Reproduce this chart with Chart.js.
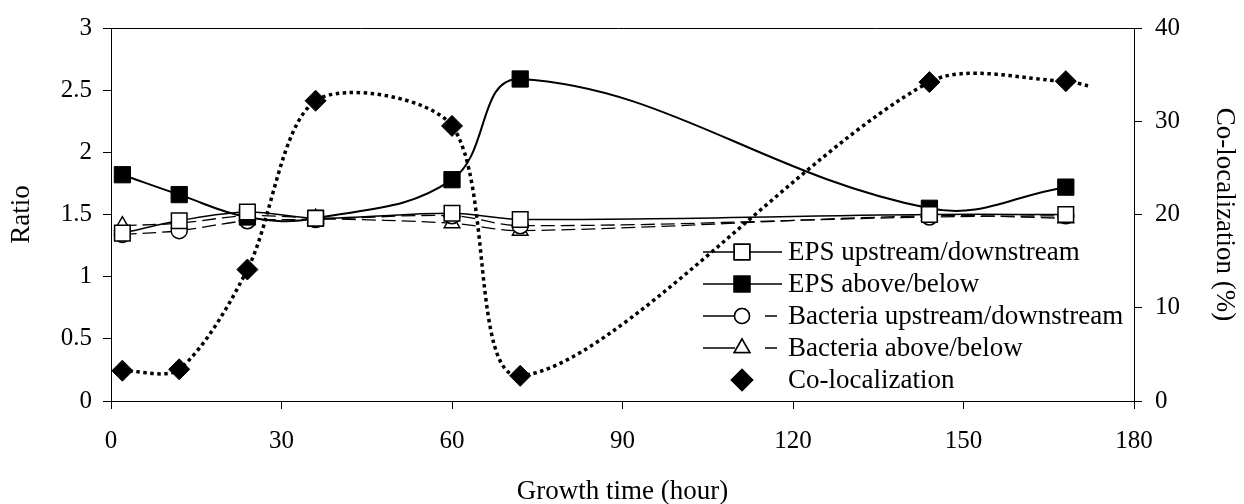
<!DOCTYPE html>
<html>
<head>
<meta charset="utf-8">
<title>Ratio and co-localization over growth time</title>
<script src="https://cdn.jsdelivr.net/npm/chart.js@4.4.1/dist/chart.umd.min.js"></script>
<style>
    html, body { margin: 0; padding: 0; background: #fff; }
    #wrap { width: 1244px; height: 504px; }
</style>
</head>
<body>
<div id="wrap"><canvas id="chart" width="1244" height="504"></canvas></div>
<script>
// Data
const hours = [2, 12, 24, 36, 60, 72, 144, 168];
const coHours = [2, 12, 24, 36, 60, 72, 144, 168, 172];   // dotted curve runs a little past the last marker

const epsUpDown = [1.35, 1.45, 1.52, 1.47, 1.51, 1.46, 1.50, 1.50];
const epsAboveBelow = [1.82, 1.66, 1.48, 1.47, 1.78, 2.59, 1.55, 1.72];
const bacUpDown = [1.34, 1.37, 1.45, 1.46, 1.49, 1.41, 1.48, 1.49];
const bacAboveBelow = [1.41, 1.43, 1.49, 1.47, 1.43, 1.37, 1.49, 1.47];
const coLocalization = [3.25, 3.4, 14.1, 32.2, 29.5, 2.7, 34.2, 34.3, 33.8];

const seriesLabels = ['EPS upstream/downstream', 'EPS above/below', 'Bacteria upstream/downstream', 'Bacteria above/below', 'Co-localization'];
const xTicks = [0, 30, 60, 90, 120, 150, 180];
const ratioTicks = [0, 0.5, 1, 1.5, 2, 2.5, 3];
const coTicks = [0, 10, 20, 30, 40];

const FONT = "'Liberation Serif', 'Times New Roman', serif";

function pairs(xs, ys) {
    return ys.map((y, i) => ({ x: xs[i], y: y }));
}

// Top edge of the plot box (the axes draw the other three sides)
const framePlugin = {
    id: 'frame',
    beforeDatasetsDraw(chart) {
        const a = chart.chartArea;
        const ctx = chart.ctx;
        ctx.save();
        ctx.strokeStyle = '#000';
        ctx.lineWidth = 1;
        ctx.beginPath();
        ctx.moveTo(103, Math.round(a.top) + 0.5);
        ctx.lineTo(Math.round(a.right) + 0.5, Math.round(a.top) + 0.5);
        ctx.stroke();
        ctx.restore();
    }
};

// Legend drawn inside the plot, like the original
const legendPlugin = {
    id: 'insideLegend',
    afterDraw(chart) {
        const ctx = chart.ctx;
        const rowY = [252, 284, 316, 348, 380];
        ctx.save();
        chart.data.datasets.forEach((ds, i) => {
            const y = rowY[i];
            ctx.strokeStyle = '#000';
            ctx.lineWidth = 1.5;
            if (ds.legendLine === 'solid') {
                ctx.setLineDash([]);
                ctx.beginPath(); ctx.moveTo(703, y); ctx.lineTo(782, y); ctx.stroke();
            } else if (ds.legendLine === 'dash') {
                ctx.setLineDash([]);
                ctx.beginPath(); ctx.moveTo(703, y); ctx.lineTo(735, y); ctx.stroke();
                ctx.beginPath(); ctx.moveTo(765, y); ctx.lineTo(777, y); ctx.stroke();
            }
            ctx.setLineDash([]);
            Chart.helpers.drawPoint(ctx, {
                pointStyle: ds.pointStyle,
                radius: ds.legendRadius,
                borderWidth: 1.5
            }, 742, y);
            ctx.fillStyle = ds.pointBackgroundColor;
            ctx.strokeStyle = '#000';
            ctx.fill();
            ctx.stroke();
            ctx.fillStyle = '#000';
            ctx.font = '27px ' + FONT;
            ctx.textBaseline = 'middle';
            ctx.textAlign = 'left';
            ctx.fillText(ds.label, 788, y + 1);
        });
        ctx.restore();
    }
};

const ctx = document.getElementById('chart').getContext('2d');

const chart = new Chart(ctx, {
    type: 'line',
    data: {
        datasets: [
            {
                label: seriesLabels[0],
                data: pairs(hours, epsUpDown),
                yAxisID: 'y',
                borderColor: '#000',
                borderWidth: 1.5,
                pointStyle: 'rect',
                pointRadius: 11,
                pointBorderWidth: 1.5,
                pointBackgroundColor: '#fff',
                pointBorderColor: '#000',
                tension: 0.35,
                legendLine: 'solid',
                legendRadius: 11
            },
            {
                label: seriesLabels[1],
                data: pairs(hours, epsAboveBelow),
                yAxisID: 'y',
                borderColor: '#000',
                borderWidth: 2,
                pointStyle: 'rect',
                pointRadius: 11.5,
                pointBorderWidth: 1,
                pointBackgroundColor: '#000',
                pointBorderColor: '#000',
                tension: 0.4,
                legendLine: 'solid',
                legendRadius: 11
            },
            {
                label: seriesLabels[2],
                data: pairs(hours, bacUpDown),
                yAxisID: 'y',
                borderColor: '#000',
                borderWidth: 1.3,
                borderDash: [14, 6],
                pointStyle: 'circle',
                pointRadius: 8,
                pointBorderWidth: 1.5,
                pointBackgroundColor: '#fff',
                pointBorderColor: '#000',
                tension: 0.35,
                legendLine: 'dash',
                legendRadius: 7.5
            },
            {
                label: seriesLabels[3],
                data: pairs(hours, bacAboveBelow),
                yAxisID: 'y',
                borderColor: '#000',
                borderWidth: 1.3,
                borderDash: [14, 6],
                pointStyle: 'triangle',
                pointRadius: 9,
                pointBorderWidth: 1.5,
                pointBackgroundColor: '#fff',
                pointBorderColor: '#000',
                tension: 0.35,
                legendLine: 'dash',
                legendRadius: 9
            },
            {
                label: seriesLabels[4],
                data: pairs(coHours, coLocalization),
                yAxisID: 'y2',
                borderColor: '#000',
                borderWidth: 3.5,
                borderDash: [3.5, 3.5],
                borderCapStyle: 'butt',
                pointStyle: 'rectRot',
                pointRadius: coHours.map((h, i) => i < hours.length ? 10.5 : 0),
                pointBorderWidth: 1,
                pointBackgroundColor: '#000',
                pointBorderColor: '#000',
                tension: 0.3,
                legendLine: 'none',
                legendRadius: 10.5
            }
        ]
    },
    options: {
        responsive: false,
        animation: false,
        events: [],
        clip: false,
        layout: { padding: { top: 20, left: 0, right: 0, bottom: 0 } },
        plugins: {
            legend: { display: false },
            tooltip: { enabled: false }
        },
        scales: {
            x: {
                type: 'linear',
                position: 'bottom',
                min: 0,
                max: 180,
                afterBuildTicks: s => { s.ticks = xTicks.map(v => ({ value: v })); },
                afterFit: s => { s.height = 103; },
                ticks: { color: '#000', font: { family: FONT, size: 25 }, padding: 17, maxRotation: 0, callback: v => String(v) },
                grid: { drawOnChartArea: false, tickLength: 8, color: '#000', lineWidth: 1 },
                border: { display: true, color: '#000', width: 1 },
                title: { display: true, text: 'Growth time (hour)', color: '#000', font: { family: FONT, size: 27 }, padding: { top: 0, bottom: -4 } }
            },
            y: {
                position: 'left',
                min: 0,
                max: 3,
                afterBuildTicks: s => { s.ticks = ratioTicks.map(v => ({ value: v })); },
                afterFit: s => { s.width = 111; },
                ticks: { color: '#000', font: { family: FONT, size: 25 }, padding: 11, callback: v => String(v) },
                grid: { drawOnChartArea: false, tickLength: 8, color: '#000', lineWidth: 1 },
                border: { display: true, color: '#000', width: 1 },
                title: { display: true, text: 'Ratio', color: '#000', font: { family: FONT, size: 27 }, padding: { top: 6, bottom: 4 } }
            },
            y2: {
                position: 'right',
                min: 0,
                max: 40,
                afterBuildTicks: s => { s.ticks = coTicks.map(v => ({ value: v })); },
                afterFit: s => { s.width = 110; },
                ticks: { color: '#000', font: { family: FONT, size: 25 }, padding: 13, callback: v => String(v) },
                grid: { drawOnChartArea: false, tickLength: 8, color: '#000', lineWidth: 1 },
                border: { display: true, color: '#000', width: 1 },
                title: { display: true, text: 'Co-localization (%)', color: '#000', font: { family: FONT, size: 27 }, padding: { top: 4, bottom: 0 } }
            }
        }
    },
    plugins: [framePlugin, legendPlugin]
});
</script>
</body>
</html>
